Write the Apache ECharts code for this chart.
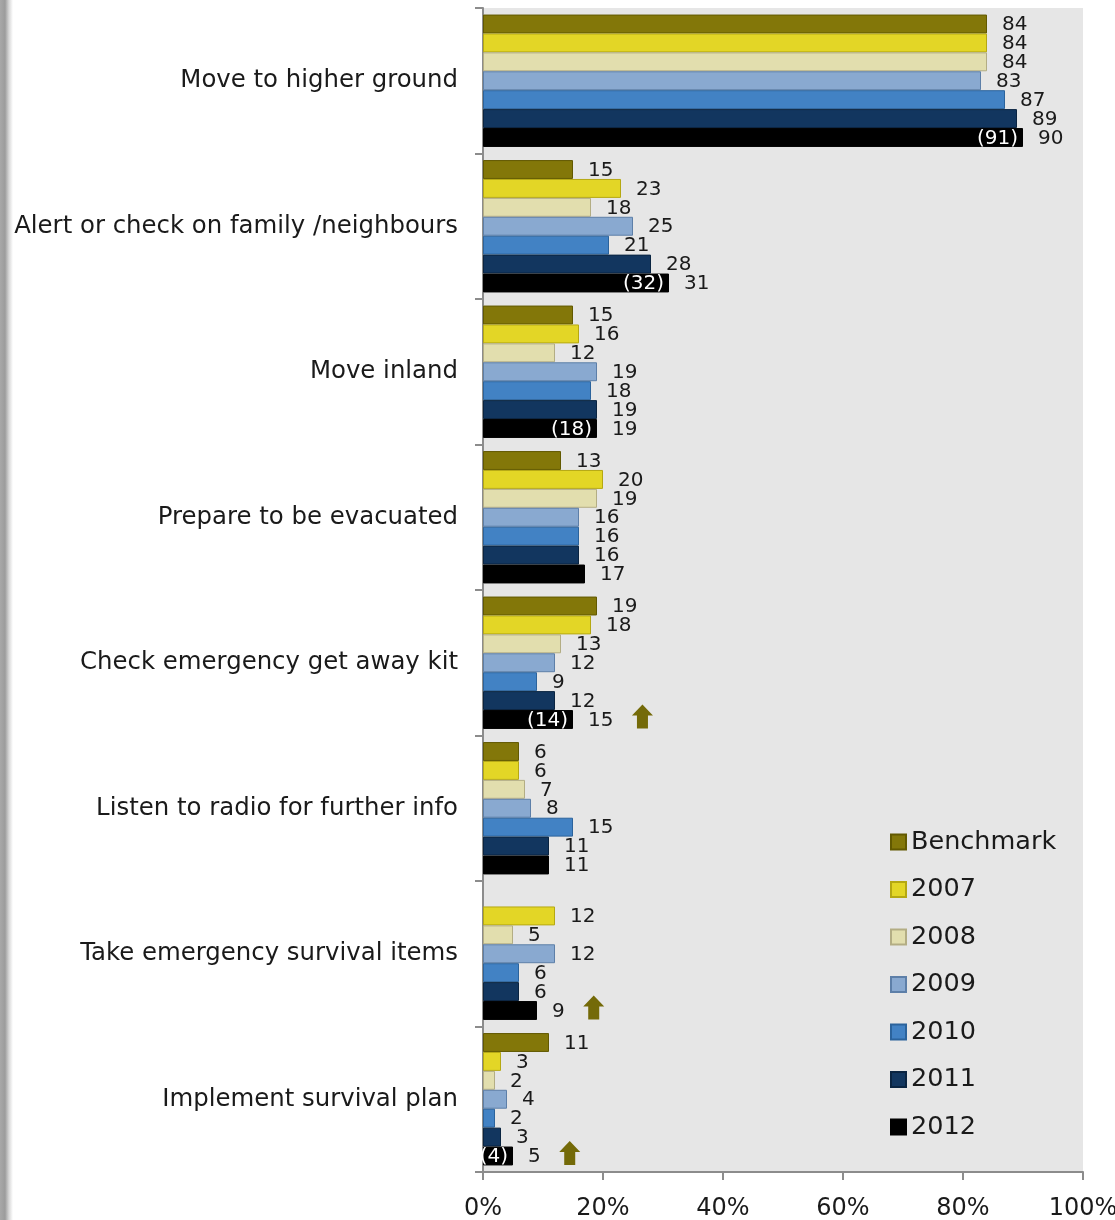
<!DOCTYPE html>
<html><head><meta charset="utf-8">
<script src="https://cdn.jsdelivr.net/npm/echarts@6/dist/echarts.min.js"></script>
<style>
html,body{margin:0;padding:0;}
body{background:linear-gradient(to right,#a8a8a8 0px,#9c9c9c 5px,#d8d8d8 9px,#ffffff 13px);}
#chart{width:1115px;height:1220px;}
</style></head><body><div id="chart"></div>
<script>
const categories = ['Move to higher ground','Alert or check on family /neighbours','Move inland','Prepare to be evacuated','Check emergency get away kit','Listen to radio for further info','Take emergency survival items','Implement survival plan'];
const seriesNames = ['Benchmark','2007','2008','2009','2010','2011','2012'];
const benchmark = [84,15,15,13,19,6,null,11];
const y2007 = [84,23,16,20,18,6,12,3];
const y2008 = [84,18,12,19,13,7,5,2];
const y2009 = [83,25,19,16,12,8,12,4];
const y2010 = [87,21,18,16,9,15,6,2];
const y2011 = [89,28,19,16,12,11,6,3];
const y2012 = [90,31,19,17,15,11,9,5];
const y2012Alt = [91,32,18,0,14,0,0,4];
const upArrow = [0,0,0,0,1,0,1,1];

const FONT = 'DejaVu Sans';
const fills = ['#837709','#e3d626','#e2deae','#89a9d0','#4282c4','#12365f','#000000'];
const borders = ['#625900','#b5a812','#b3ad84','#5d7fa8','#2b639c','#0a2441','#000000'];
const allData = [benchmark,y2007,y2008,y2009,y2010,y2011,y2012];
const GAP = 0.09;
const LFS = 20;

const mctx = document.createElement('canvas').getContext('2d');
mctx.font = LFS + 'px "' + FONT + '"';

const series = seriesNames.map((n,i)=>({
  name:n, type:'bar', data:allData[i],
  barGap:'0%', barCategoryGap:(GAP*100)+'%',
  itemStyle:{color:fills[i], borderColor:borders[i], borderWidth:1},
  label:{show:true, position:'right', distance:15, offset:[0,1], fontFamily:FONT, fontSize:LFS, color:'#1a1a1a'}
}));

series.push({
  name:'extra', type:'custom', z:10, silent:true,
  encode:{x:0, y:1},
  data: y2012.map((v,i)=>[v,i,y2012Alt[i],upArrow[i]]),
  renderItem:function(params, api){
    const v = api.value(0), cat = api.value(1), alt = api.value(2), arrow = api.value(3);
    const c = api.coord([v, cat]);
    const band = api.size([0,1])[1];
    const barW = band*(1-GAP)/7;
    const y = c[1] + 3*barW;
    const children = [];
    if (alt > 0) {
      children.push({type:'text', style:{text:'('+alt+')', x:c[0]-5, y:y+1, align:'right', verticalAlign:'middle', fill:'#ffffff', font:LFS+'px "'+FONT+'"'}});
    }
    if (arrow) {
      const lw = mctx.measureText(String(v)).width;
      const ax = c[0] + 15 + lw + 29;
      const t = y - 15;
      children.push({type:'polygon', shape:{points:[[ax,t],[ax+10.5,t+11],[ax+5.5,t+11],[ax+5.5,t+24],[ax-5.5,t+24],[ax-5.5,t+11],[ax-10.5,t+11]]}, style:{fill:'#746a08'}});
    }
    return {type:'group', children:children};
  }
});

const chart = echarts.init(document.getElementById('chart'));
chart.setOption({
  animation:false,
  textStyle:{fontFamily:FONT},
  grid:{left:483, right:32, top:8, bottom:48, show:true, backgroundColor:'#e6e6e6', borderWidth:0, containLabel:false, outerBoundsMode:'none'},
  legend:{data:seriesNames, icon:'rect', orient:'vertical', left:890, top:828, itemWidth:15, itemHeight:15, itemGap:19.5, padding:0,
    textStyle:{fontFamily:FONT, fontSize:25.5, color:'#1a1a1a', lineHeight:28}},
  xAxis:{type:'value', min:0, max:100, interval:20,
    axisLine:{show:true, lineStyle:{color:'#8c8c8c', width:2}},
    axisTick:{show:true, length:8, lineStyle:{color:'#8c8c8c', width:2}},
    splitLine:{show:false},
    axisLabel:{formatter:'{value}%', fontFamily:FONT, fontSize:24, color:'#1a1a1a', margin:25, hideOverlap:false}},
  yAxis:{type:'category', inverse:true, data:categories,
    axisLine:{show:true, lineStyle:{color:'#8c8c8c', width:2}},
    axisTick:{show:true, length:8, lineStyle:{color:'#8c8c8c', width:2}},
    axisLabel:{fontFamily:FONT, fontSize:24.4, color:'#1a1a1a', margin:25}},
  series:series
});
</script></body></html>
